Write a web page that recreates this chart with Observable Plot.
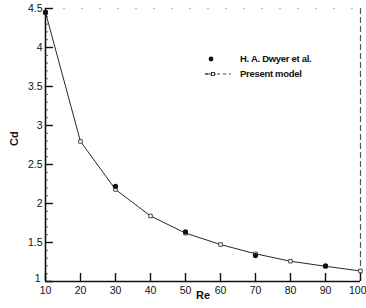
<!DOCTYPE html>
<html>
<head>
<meta charset="utf-8">
<script src="https://cdn.jsdelivr.net/npm/d3@7"></script>
<script src="https://cdn.jsdelivr.net/npm/@observablehq/plot@0.6"></script>
<style>
  body { margin: 0; background: #fff; }
  #wrap { position: relative; width: 366px; height: 308px; font-family: "Liberation Sans", Arial, sans-serif; }
  #legend { position: absolute; left: 204px; top: 51px; font-size: 9.5px; font-weight: bold; color: #111; letter-spacing: -0.3px; }
  #legend div { height: 15px; display: flex; align-items: center; }
  #legend svg { margin-right: 8px; }
</style>
</head>
<body>
<div id="wrap"></div>
<script>
// Present model (open squares, line)
const modelRe = [10, 20, 30, 40, 50, 60, 70, 80, 90, 100];
const modelCd = [4.45, 2.795, 2.18, 1.84, 1.62, 1.474, 1.355, 1.26, 1.195, 1.135];
// H. A. Dwyer et al. (filled circles)
const dwyerRe = [10, 30, 50, 70, 90];
const dwyerCd = [4.45, 2.22, 1.637, 1.333, 1.20];
// ticks
const xTicks = [10, 20, 30, 40, 50, 60, 70, 80, 90, 100];
const yTicks = [1, 1.5, 2, 2.5, 3, 3.5, 4, 4.5];
const yMinor = d3.range(10, 46).map(d => d / 10).filter(d => !yTicks.includes(d));
const legendLabels = ["H. A. Dwyer et al.", "Present model"];

const model = modelRe.map((re, i) => ({re, cd: modelCd[i]}));
const dwyer = dwyerRe.map((re, i) => ({re, cd: dwyerCd[i]}));

const W = 366, H = 308, mL = 45, mR = 6, mT = 8, mB = 27;
const fw = W - mL - mR, fh = H - mT - mB;

const chart = Plot.plot({
  width: W, height: H,
  marginLeft: mL, marginRight: mR, marginTop: mT, marginBottom: mB,
  style: {fontFamily: "Liberation Sans, Arial, sans-serif", fontSize: "10px", color: "#111", background: "#fff"},
  x: {domain: [10, 100]},
  y: {domain: [1, 4.5]},
  marks: [
    // right border (dashed) and faint top border
    Plot.ruleX([100], {stroke: "#555", strokeWidth: 1.2, strokeDasharray: "6,3"}),
    Plot.ruleY([4.5], {stroke: "#bbb", strokeWidth: 1, strokeDasharray: "2,16"}),
    // axes lines
    Plot.ruleX([10], {stroke: "#111", strokeWidth: 1.6}),
    Plot.ruleY([1], {stroke: "#111", strokeWidth: 1.6}),
    // inward ticks
    Plot.tickY(yTicks, {y: d => d, insetRight: fw - 8, stroke: "#111", strokeWidth: 1.4}),
    Plot.tickY(yMinor, {y: d => d, insetRight: fw - 3, stroke: "#333", strokeWidth: 0.8}),
    Plot.tickX(xTicks, {x: d => d, insetTop: fh - 8, stroke: "#111", strokeWidth: 1.4}),
    // axis labels
    Plot.axisY({ticks: yTicks.filter(d => d !== 1), tickSize: 0, tickPadding: 3, tickFormat: d => String(d), label: null, fontSize: 10.5}),
    Plot.axisY({ticks: [1], tickSize: 0, tickPadding: 5, tickFormat: d => String(d), label: null, fontSize: 10.5, dy: -3}),
    Plot.axisX({ticks: xTicks.filter(d => d !== 100), tickSize: 0, tickPadding: 5, tickFormat: d => String(d), label: null, fontSize: 10.5}),
    Plot.axisX({ticks: [100], tickSize: 0, tickPadding: 5, tickFormat: d => String(d), label: null, fontSize: 10.5, textAnchor: "end", dx: 6}),
    Plot.text(["Cd"], {frameAnchor: "left", dx: -31, dy: 1, rotate: -90, fontWeight: "bold", fontSize: 11}),
    Plot.text(["Re"], {frameAnchor: "bottom", dy: 17, x: 55, fontWeight: "bold", fontSize: 11}),
    // data
    Plot.line(model, {x: "re", y: "cd", stroke: "#111", strokeWidth: 0.9}),
    Plot.dot(model, {x: "re", y: "cd", symbol: "square", r: 2, stroke: "#222", strokeWidth: 0.8, fill: "#fff"}),
    Plot.dot(dwyer, {x: "re", y: "cd", r: 2.6, fill: "#111", stroke: "none"})
  ]
});
const wrap = document.getElementById("wrap");
wrap.appendChild(chart);

const leg = document.createElement("div");
leg.id = "legend";
leg.innerHTML =
  `<div><svg width="28" height="8"><circle cx="7" cy="4" r="2.4" fill="#111"/></svg>${legendLabels[0]}</div>` +
  `<div><svg width="28" height="8"><line x1="1" y1="4" x2="27" y2="4" stroke="#111" stroke-width="0.8" stroke-dasharray="3,3"/><line x1="1" y1="4" x2="12" y2="4" stroke="#111" stroke-width="0.8"/><rect x="7.5" y="2.5" width="3" height="3" fill="#fff" stroke="#111" stroke-width="0.8"/></svg>${legendLabels[1]}</div>`;
wrap.appendChild(leg);
</script>
</body>
</html>
